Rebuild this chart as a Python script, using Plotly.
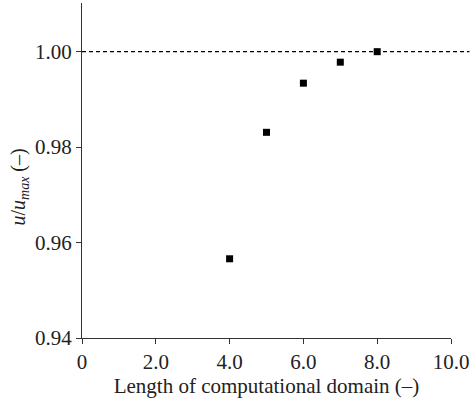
import plotly.graph_objects as go

domain_length = [4, 5, 6, 7, 8]
u_ratio = [0.9566, 0.9831, 0.9934, 0.9978, 1.0000]
ref_value = 1.0
x_ticks = [0, 2, 4, 6, 8, 10]
x_ticklabels = ["0", "2.0", "4.0", "6.0", "8.0", "10.0"]
y_ticks = [0.94, 0.96, 0.98, 1.00]
y_ticklabels = ["0.94", "0.96", "0.98", "1.00"]

font_family = "Times New Roman, Liberation Serif, serif"

fig = go.Figure()
fig.add_trace(go.Scatter(
    x=domain_length, y=u_ratio, mode="markers",
    marker=dict(symbol="square", size=7, color="black"),
    cliponaxis=False, showlegend=False,
))
fig.add_shape(type="line", xref="paper", yref="y", x0=0, x1=1.05,
              y0=ref_value, y1=ref_value,
              line=dict(color="black", width=1.2, dash="4px,3px"))

fig.add_annotation(
    text="<i>u</i>/<i>u</i><sub><i>max</i></sub> (–)",
    xref="paper", yref="paper", x=-0.17, y=0.45,
    textangle=-90, showarrow=False, xanchor="center", yanchor="middle",
    font=dict(family=font_family, size=20, color="#222"),
)

fig.update_layout(
    width=472, height=402,
    margin=dict(l=82, r=18, t=3, b=64),
    plot_bgcolor="white", paper_bgcolor="white",
    font=dict(family=font_family, size=21, color="#222"),
)
fig.update_xaxes(
    range=[0, 10], tickvals=x_ticks, ticktext=x_ticklabels,
    showline=True, linecolor="#333", linewidth=1, mirror=False,
    ticks="outside", ticklen=5, tickcolor="#333", showgrid=False, zeroline=False,
    ticklabeloverflow="allow",
    title=dict(text="Length of computational domain (–)",
               font=dict(family=font_family, size=21), standoff=2),
    tickfont=dict(family=font_family, size=21),
)
fig.update_yaxes(
    range=[0.94, 1.0102], tickvals=y_ticks, ticktext=y_ticklabels,
    showline=True, linecolor="#333", linewidth=1, mirror=False,
    ticks="outside", ticklen=5, tickcolor="#333", showgrid=False, zeroline=False,
    tickfont=dict(family=font_family, size=21),
)
fig.write_html("out.html")
